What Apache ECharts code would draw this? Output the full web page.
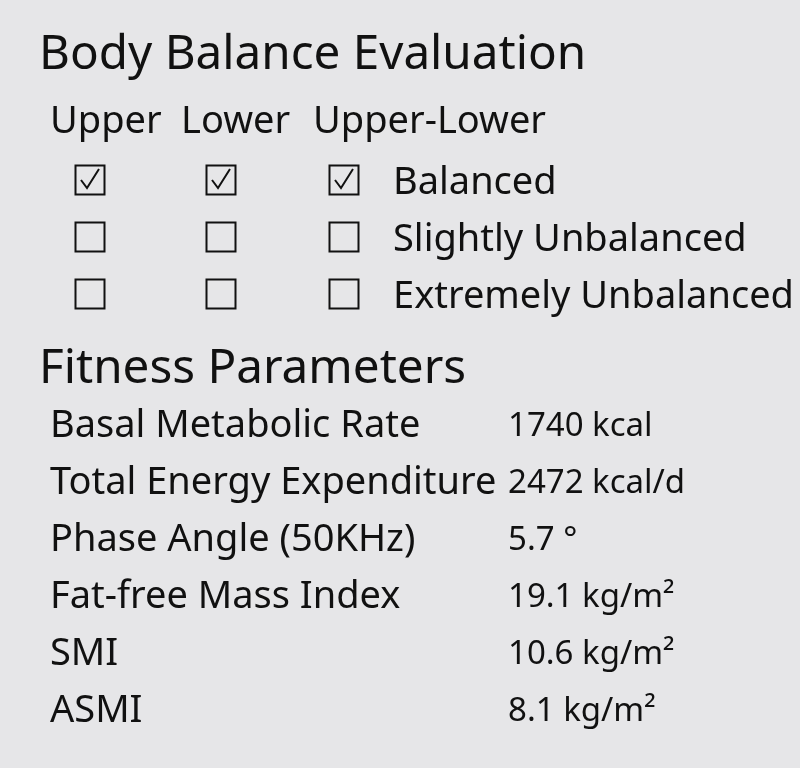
<!DOCTYPE html>
<html>
<head>
<meta charset="utf-8">
<script src="https://cdn.jsdelivr.net/npm/echarts@6/dist/echarts.min.js"></script>
<style>
html,body{margin:0;padding:0;background:#e6e6e8;}
#c{width:800px;height:768px;}
</style>
</head>
<body>
<div id="c"></div>
<script>
// ---- data ----
var balanceTitle = 'Body Balance Evaluation';
var balanceColumns = ['Upper', 'Lower', 'Upper-Lower'];
var balanceLevels = ['Balanced', 'Slightly Unbalanced', 'Extremely Unbalanced'];
var balanceSelected = [0, 0, 0]; // index of checked level for each column
var fitnessTitle = 'Fitness Parameters';
var paramNames = ['Basal Metabolic Rate', 'Total Energy Expenditure', 'Phase Angle (50KHz)', 'Fat-free Mass Index', 'SMI', 'ASMI'];
var paramValues = ['1740', '2472', '5.7', '19.1', '10.6', '8.1'];
var paramUnits = ['kcal', 'kcal/d', '°', 'kg/m²', 'kg/m²', 'kg/m²'];

// ---- layout ----
var FONT = '"Noto Sans", "Open Sans", sans-serif';
var INK = '#111111';
var colHeaderX = [50, 181, 313];
var boxCX = [90, 221, 344];
var rowY = [180, 237, 294];
var paramY = [424, 481, 538, 595, 652, 709];

var g = [];
function txt(x, y, s, size) {
  g.push({type: 'text', style: {x: x, y: y, text: s, fontSize: size, fontFamily: FONT, fill: INK, verticalAlign: 'middle', align: 'left'}});
}
txt(39, 55, balanceTitle, 47.6);
balanceColumns.forEach(function (c, i) { txt(colHeaderX[i], 122, c, 38); });
balanceLevels.forEach(function (l, r) {
  txt(393, rowY[r] + 3, l, 38);
  balanceColumns.forEach(function (c, i) {
    var cx = boxCX[i], cy = rowY[r], h = 14.5;
    g.push({type: 'rect', shape: {x: cx - h, y: cy - h, width: 2 * h, height: 2 * h},
      style: {fill: 'none', stroke: INK, lineWidth: 2}});
    if (balanceSelected[i] === r) {
      g.push({type: 'polyline', shape: {points: [[cx - 9, cy], [cx - 3, cy + 8], [cx + 9, cy - 11]]},
        style: {fill: 'none', stroke: INK, lineWidth: 2}});
    }
  });
});
txt(39, 369, fitnessTitle, 47.6);
paramNames.forEach(function (n, i) {
  txt(50, paramY[i] + 2, n, 38);
  txt(508, paramY[i] + 3, paramValues[i] + ' ' + paramUnits[i], 33);
});

var chart = echarts.init(document.getElementById('c'));
chart.setOption({backgroundColor: '#e6e6e8', animation: false, graphic: g});
</script>
</body>
</html>
